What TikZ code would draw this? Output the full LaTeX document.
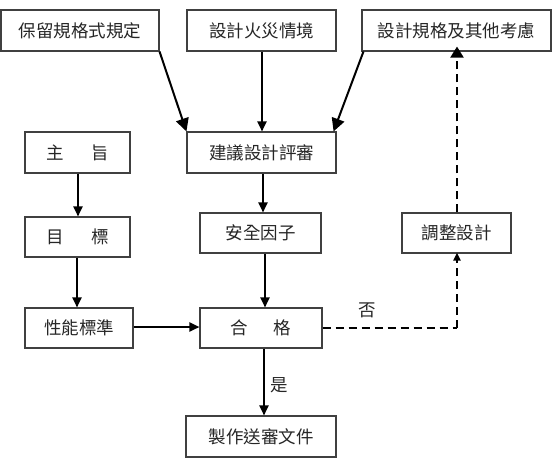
\documentclass[tikz,border=0pt]{standalone}
\usepackage{fontspec}
\newfontfamily\cjk{Noto Sans CJK TC}
\usetikzlibrary{arrows.meta,positioning}
\tikzset{
  box/.style={draw=black!75,line width=1.1pt,rectangle,inner sep=0pt,minimum height=41pt,
    font=\cjk\fontsize{17.5}{20}\selectfont,text=black!85},
  arr/.style={line width=2pt,-{Triangle[length=10pt,width=9pt]}},
  bigarr/.style={line width=2pt,-{Triangle[length=13pt,width=13pt]}},
  darr/.style={line width=2pt,dash pattern=on 8pt off 5pt},
  lbl/.style={font=\cjk\fontsize{17.5}{20}\selectfont,text=black!85,inner sep=0pt}
}
\begin{document}
\begin{tikzpicture}[x=1pt,y=-1pt]
\useasboundingbox[fill=white] (0,0) rectangle (553,467);
\node[box,minimum width=158pt] (A) at (80,30.5) {保留規格式規定};
\node[box,minimum width=149pt] (B) at (261.5,30.5) {設計火災情境};
\node[box,minimum width=189pt] (C) at (456.5,30.5) {設計規格及其他考慮};
\node[box,minimum width=149pt] (D) at (261.5,152.5) {建議設計評審};
\node[box,minimum width=105pt] (E) at (77.5,152.5) {主\hspace{1.55em}旨};
\node[box,minimum width=105pt,minimum height=40pt] (F) at (77.5,237) {目\hspace{1.55em}標};
\node[box,minimum width=108pt,minimum height=40pt] (G) at (79,328) {性能標準};
\node[box,minimum width=121pt,minimum height=40pt] (H) at (260.5,233) {安全因子};
\node[box,minimum width=109pt,minimum height=40pt] (I) at (456.5,233) {調整設計};
\node[box,minimum width=122pt,minimum height=40pt] (J) at (261,328) {合\hspace{1.45em}格};
\node[box,minimum width=150pt] (K) at (261,436.5) {製作送審文件};
\coordinate (corner) at ([xshift=0.5pt]J.east -| I.south);
% arrows
\draw[bigarr] (A.south east) -- (D.north west);
\draw[arr] ([xshift=0.5pt]B.south) -- ([xshift=0.5pt]B.south |- D.north);
\draw[bigarr] ([xshift=2pt]C.south west) -- ([xshift=-3pt]D.north east);
\draw[arr] ([xshift=0.5pt]E.south) -- ([xshift=0.5pt]F.north);
\draw[arr] ([xshift=-0.5pt]F.south) -- ([xshift=-0.5pt]F.south |- G.north);
\draw[arr] ([xshift=1.5pt]D.south) -- ([xshift=1.5pt]D.south |- H.north);
\draw[arr] ([xshift=4.5pt]H.south) -- ([xshift=4.5pt]H.south |- J.north);
\draw[arr] ([yshift=1pt]G.east) -- ([yshift=1pt]G.east -| J.west);
\draw[arr] ([xshift=3pt]J.south) -- ([xshift=3pt]J.south |- K.north) node[lbl,midway,right=5pt,yshift=-3pt] {是};
\draw[darr] (J.east) -- (corner);
\draw[darr,-{Triangle[length=8pt,width=7pt]}] (corner) -- ([xshift=0.5pt,yshift=1pt]I.south);
\draw[darr,-{Triangle[length=11pt,width=13pt]}] ([xshift=0.5pt]I.north) -- ([xshift=0.5pt,yshift=5pt]C.south);
\node[lbl] (no) at (367,310) {否};
\end{tikzpicture}
\end{document}
